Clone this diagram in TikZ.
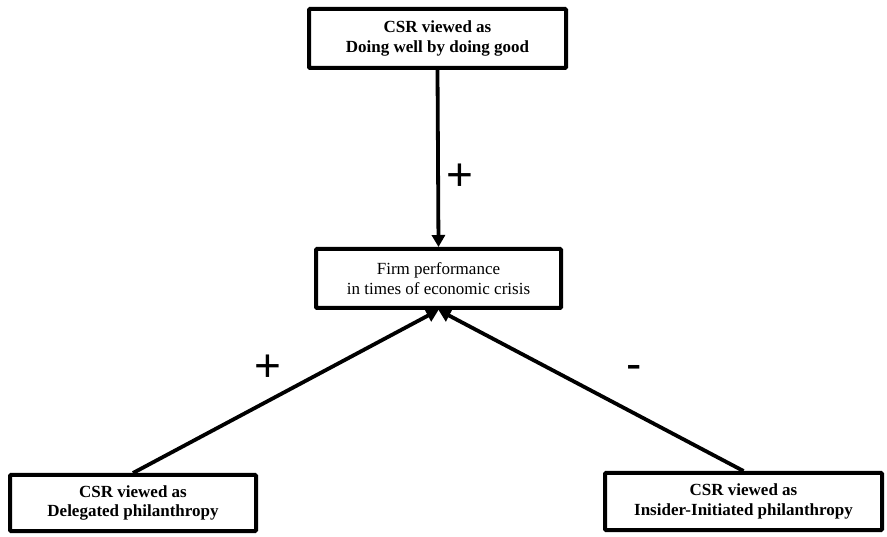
\documentclass[tikz,border=0pt]{standalone}
\usepackage{fontspec}
\setmainfont{Liberation Serif}
\newfontfamily\signfont{Liberation Sans}
\usetikzlibrary{arrows.meta}
\begin{document}
\begin{tikzpicture}[x=1pt,y=1pt,
  boxnode/.style={draw=black, line width=4pt, rounded corners=1pt, align=center,
    inner sep=0pt, font=\fontsize{17}{19.5}\selectfont},
  headbox/.style={boxnode, font=\fontsize{17}{19.5}\selectfont\bfseries},
  conn/.style={line width=3.8pt, -{Triangle[length=12pt,width=13pt]}},
  sign/.style={inner sep=0pt, anchor=base, font=\signfont\fontsize{46}{46}\selectfont}]
\useasboundingbox (0,0) rectangle (887,536);
\node[headbox, minimum width=257pt, minimum height=59pt] (top) at (437.5,497.5)
  {CSR viewed as\\Doing well by doing good};
\node[boxnode, minimum width=245pt, minimum height=59pt] (mid) at (438.5,257.5)
  {Firm performance\\in times of economic crisis};
\node[headbox, minimum width=246pt, minimum height=56pt] (bl) at (133,33)
  {CSR viewed as\\Delegated philanthropy};
\node[headbox, minimum width=277pt, minimum height=57pt] (br) at (743.5,34.5)
  {CSR viewed as\\Insider-Initiated philanthropy};
\draw[conn] (top.south) -- (mid.north);
\draw[conn] (bl.north) -- (mid.south);
\draw[conn] (br.north) -- (mid.south);
\node[sign] (ptop) at (460,345.7) {+};
\node[sign] (pleft) at (268,154.7) {+};
\node[sign] (mright) at (634.5,156.2) {-};
\end{tikzpicture}
\end{document}
